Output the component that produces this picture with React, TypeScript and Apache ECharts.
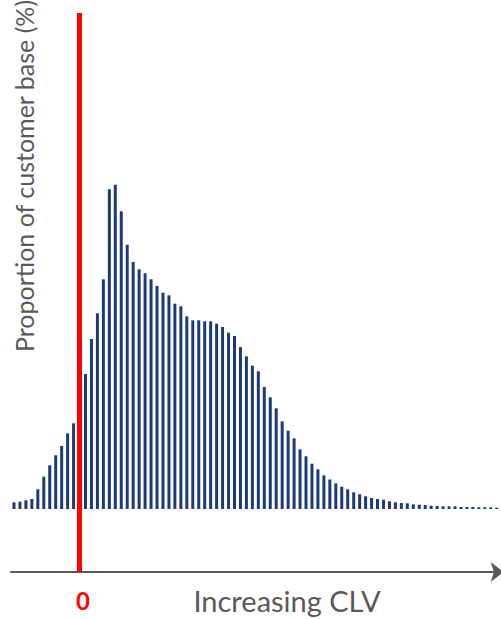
import React, { useEffect, useRef } from "react";
import * as echarts from "echarts";

const values: number[] = [
  6.7, 7.3, 8.7, 10, 19.7, 32.3, 43.7, 53.7, 63, 75.7,
  85.7, 110.7, 135, 170, 195.7, 229.7, 319.7, 324.3, 297.7, 264.3,
  247, 239.7, 235.7, 229.7, 223, 216.3, 213.7, 205.3, 202.7, 192.7,
  188.7, 188.7, 187.7, 187.7, 185.3, 182, 176.3, 173, 162, 152.7,
  143.3, 137.7, 122, 111.7, 100.7, 87.7, 78.3, 70.7, 59.7, 52.7,
  45.3, 39.7, 33.7, 29.5, 25.7, 22.3, 19.7, 16.7, 14.7, 12.7,
  11, 10, 9.3, 7.7, 6.7, 6, 5.7, 4.7, 4.3, 4,
  3.3, 3, 2.7, 2.7, 2.7, 2, 2, 2, 1.7, 1.7, 1.7, 1.3,
];
const categories: string[] = values.map((_, i) => String(i - 11));
const zeroIndex = 11;
const xTitle = "Increasing CLV";
const yTitle = "Proportion of customer base (%)";
const zeroLabel = "0";

export default function App() {
  const ref = useRef<HTMLDivElement>(null);
  useEffect(() => {
    if (!ref.current) return;
    const chart = echarts.init(ref.current, null, { renderer: "svg" });
    chart.setOption({
      animation: false,
      grid: { left: 11, right: 1.3, top: 13, bottom: 47 },
      xAxis: {
        type: "category",
        data: categories,
        axisLine: {
          show: true,
          onZero: false,
          symbol: ["none", "arrow"],
          symbolSize: [15, 13],
          symbolOffset: [0, 4],
          lineStyle: { color: "#595959", width: 2 },
        },
        axisTick: { show: false },
        axisLabel: { show: false },
      },
      yAxis: {
        type: "value",
        min: -63,
        max: 496,
        show: false,
        splitLine: { show: false },
      },
      series: [
        {
          type: "bar",
          data: values,
          barWidth: 3,
          itemStyle: { color: "#1c3a7a" },
          markLine: {
            silent: true,
            symbol: "none",
            label: { show: false },
            lineStyle: { color: "#ff0000", width: 5, type: "solid" },
            data: [{ xAxis: zeroIndex }],
          },
        },
      ],
      graphic: [
        {
          type: "text",
          x: 24,
          y: 176,
          rotation: Math.PI / 2,
          style: {
            text: yTitle,
            fill: "#595959",
            font: "25px Lato",
            align: "center",
            verticalAlign: "middle",
          },
        },
        {
          type: "text",
          x: 287,
          y: 600,
          style: {
            text: xTitle,
            fill: "#595959",
            font: "29px Lato",
            align: "center",
            verticalAlign: "middle",
          },
        },
        {
          type: "text",
          x: 83,
          y: 600,
          style: {
            text: zeroLabel,
            fill: "#ff0000",
            font: "bold 24px Lato",
            align: "center",
            verticalAlign: "middle",
          },
        },
      ],
    });
    return () => chart.dispose();
  }, []);
  return (
    <div
      ref={ref}
      style={{ position: "fixed", left: 0, top: 0, width: 501, height: 619, background: "#fff" }}
    />
  );
}
